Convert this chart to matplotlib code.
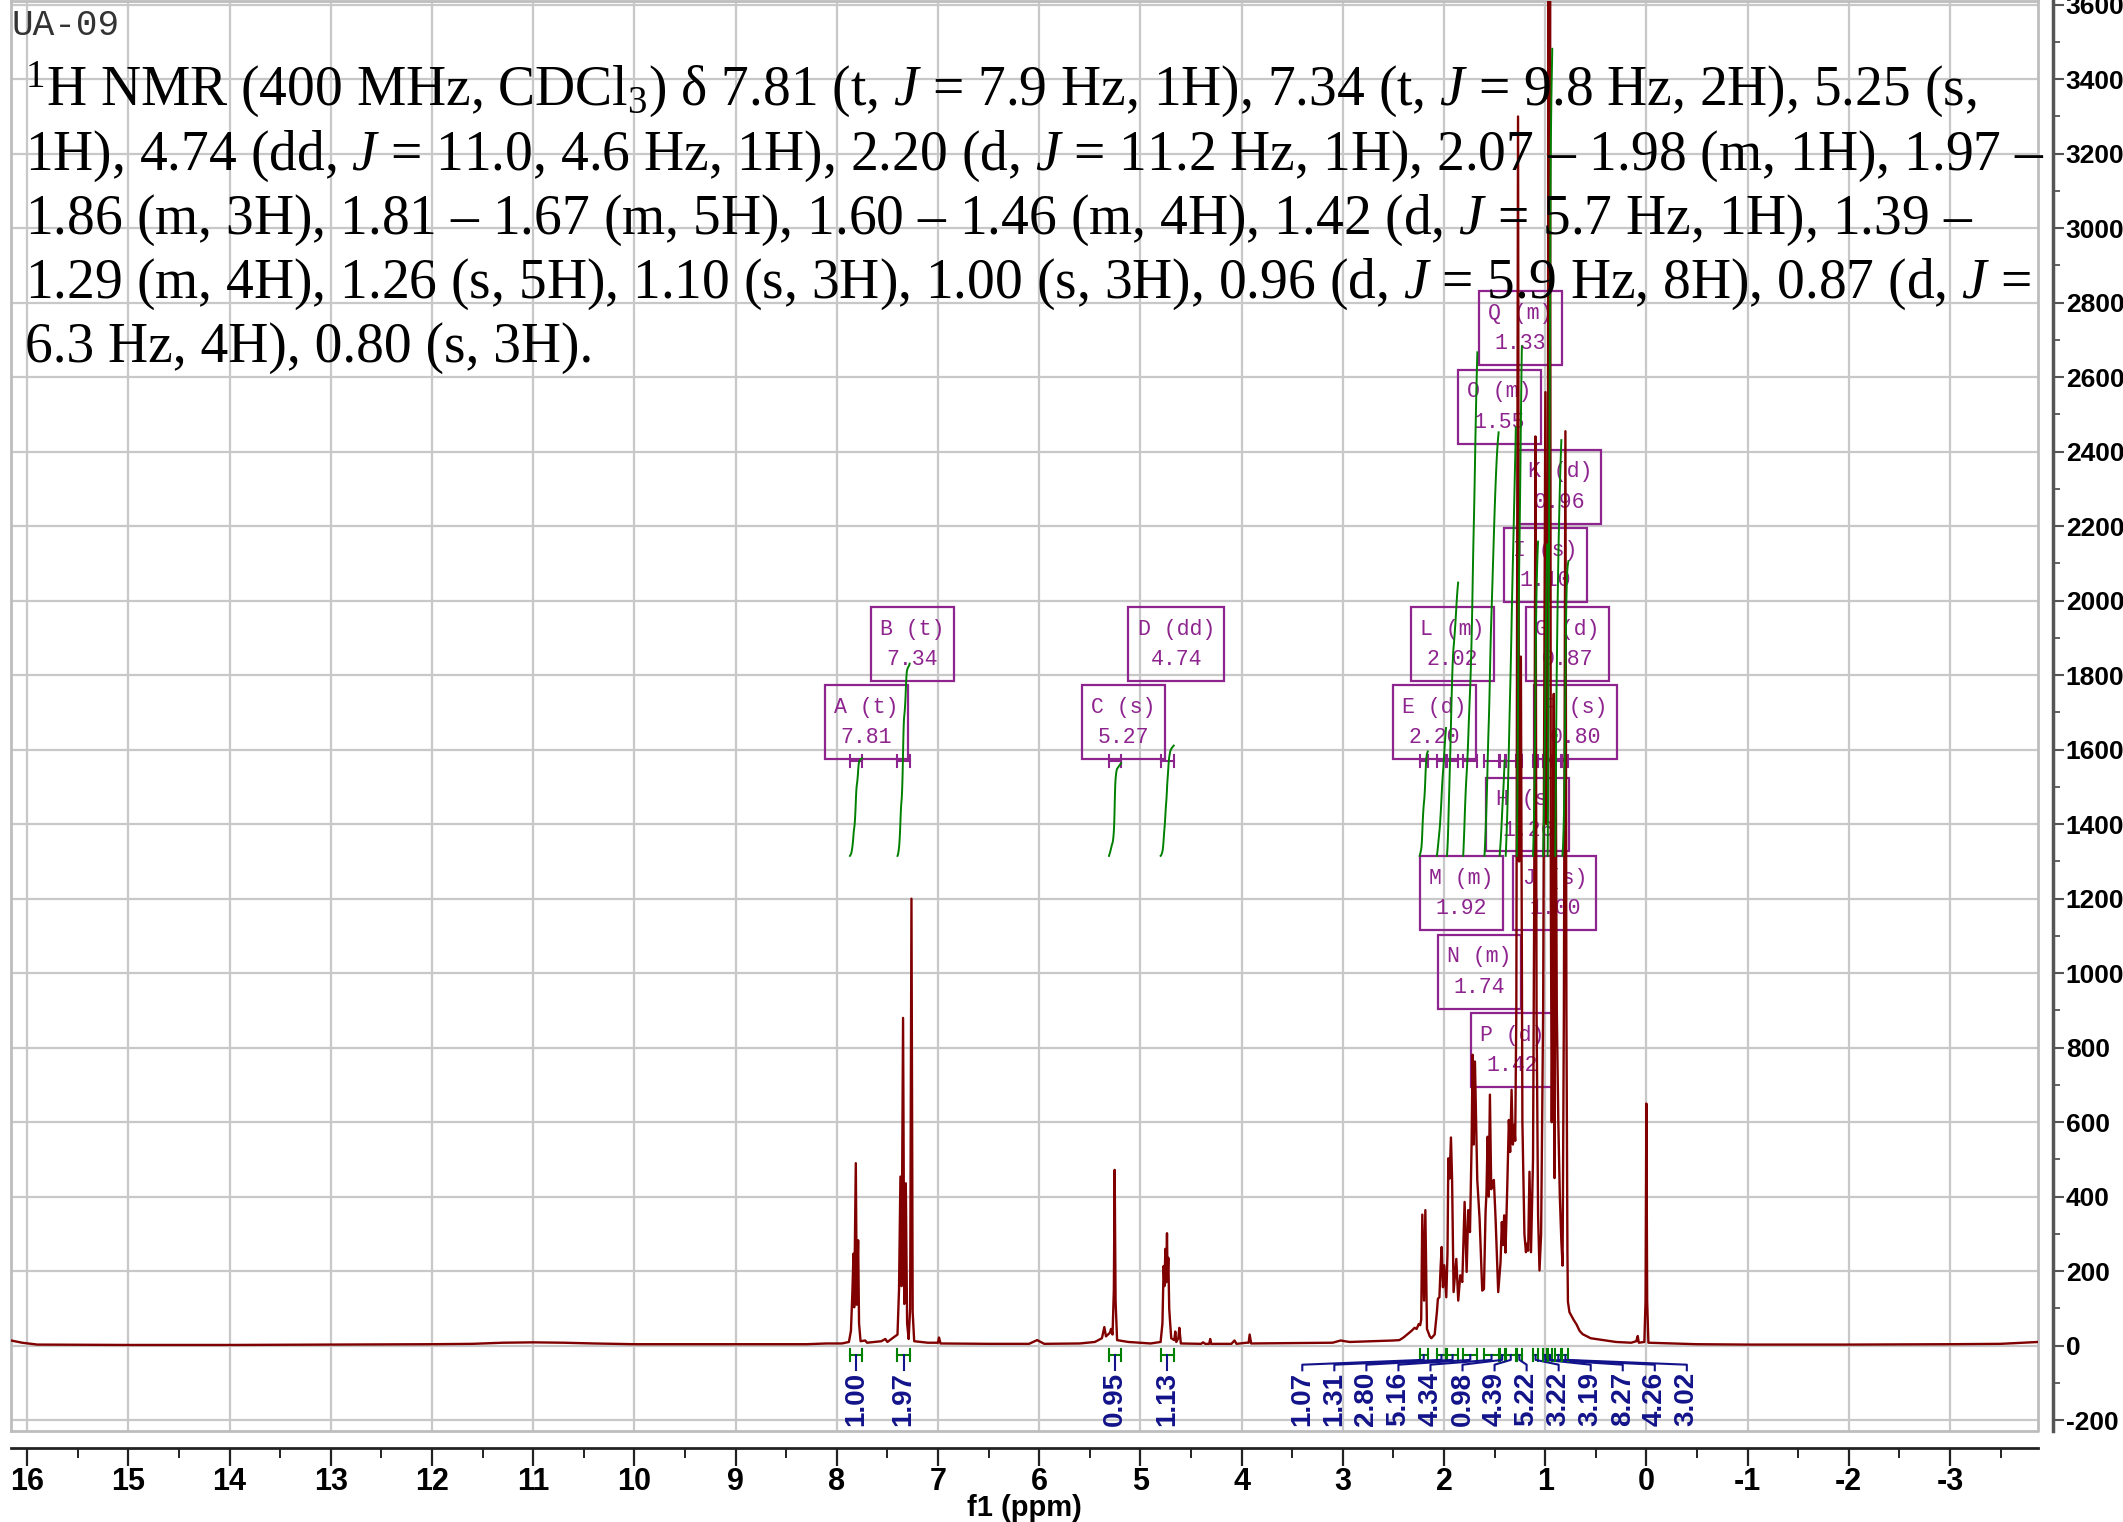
import numpy as np
import matplotlib
matplotlib.use("Agg")
import matplotlib.pyplot as plt
from matplotlib.patches import Rectangle
from matplotlib.ticker import MultipleLocator

plt.rcParams["mathtext.fontset"] = "custom"
plt.rcParams["mathtext.rm"] = "Liberation Serif"
plt.rcParams["mathtext.it"] = "Liberation Serif:italic"

# spectrum trace: shift (ppm) and intensity
spec_ppm = [16.16, 16.05, 15.9, 15.0, 14.0, 13.0, 12.0, 11.6, 11.3, 11.0, 10.7, 10.4, 10.0, 9.0,
            8.3, 8.1, 7.95, 7.88, 7.86, 7.845, 7.835, 7.828, 7.812, 7.802, 7.789, 7.78, 7.765,
            7.72, 7.70, 7.56, 7.52, 7.50, 7.40, 7.385, 7.371, 7.36, 7.345, 7.333, 7.318, 7.305,
            7.29, 7.275, 7.262, 7.25, 7.235, 7.10, 7.0, 6.99, 6.975, 6.5, 6.10, 6.02, 5.95, 5.6,
            5.45, 5.38, 5.356, 5.34, 5.30, 5.29, 5.275, 5.262, 5.254, 5.245, 5.23, 5.12, 5.06,
            4.90, 4.80, 4.782, 4.77, 4.762, 4.753, 4.745, 4.737, 4.731, 4.724, 4.715, 4.707,
            4.695, 4.665, 4.655, 4.645, 4.625, 4.615, 4.60, 4.40, 4.38, 4.36, 4.32, 4.31, 4.30,
            4.10, 4.07, 4.05, 3.95, 3.93, 3.92, 3.905, 3.5, 3.1, 3.02, 2.98, 2.93, 2.7, 2.5,
            2.44, 2.40, 2.32, 2.29, 2.27, 2.25, 2.235, 2.225, 2.214, 2.197, 2.184, 2.168, 2.14,
            2.125, 2.092, 2.07, 2.06, 2.045, 2.035, 2.023, 2.01, 1.997, 1.977, 1.965, 1.957,
            1.944, 1.931, 1.92, 1.905, 1.878, 1.859, 1.839, 1.819, 1.796, 1.776, 1.76, 1.743,
            1.727, 1.717, 1.706, 1.694, 1.671, 1.648, 1.622, 1.605, 1.589, 1.58, 1.569, 1.558,
            1.546, 1.533, 1.52, 1.507, 1.49, 1.464, 1.441, 1.428, 1.418, 1.405, 1.392, 1.375,
            1.359, 1.346, 1.332, 1.319, 1.306, 1.296, 1.285, 1.268, 1.258, 1.24, 1.225, 1.205,
            1.19, 1.178, 1.168, 1.155, 1.14, 1.12, 1.108, 1.096, 1.085, 1.07, 1.056, 1.04, 1.02,
            1.008, 0.998, 0.988, 0.975, 0.967, 0.96, 0.952, 0.944, 0.935, 0.925, 0.915, 0.907,
            0.897, 0.885, 0.87, 0.855, 0.84, 0.828, 0.815, 0.80, 0.79, 0.78, 0.775, 0.76, 0.72,
            0.69, 0.66, 0.63, 0.55, 0.45, 0.30, 0.15, 0.10, 0.085, 0.075, 0.02, 0.008, 0.0,
            -0.008, -0.02, -0.5, -1.0, -2.0, -3.0, -3.5, -3.87]
spec_int = [14, 8, 3, 2, 2, 3, 4, 5, 8, 9, 8, 6, 4, 4,
            4, 6, 6, 10, 40, 150, 247, 103, 490, 110, 283, 60, 12,
            14, 8, 12, 18, 10, 30, 150, 454, 160, 880, 112, 436, 60,
            18, 100, 1200, 90, 12, 8, 8, 22, 6, 5, 5, 15, 5, 6,
            10, 20, 50, 25, 35, 45, 30, 150, 472, 120, 15, 10, 9,
            6, 10, 60, 214, 160, 260, 170, 302, 180, 236, 100, 66,
            20, 15, 38, 10, 20, 48, 6, 5, 9, 5, 5, 18, 5,
            5, 14, 5, 8, 8, 30, 6, 7, 8, 14, 12, 10, 12, 14,
            15, 22, 40, 48, 45, 58, 55, 70, 352, 121, 364, 45, 25,
            20, 30, 90, 126, 130, 200, 265, 157, 216, 130, 250, 503,
            449, 559, 450, 144, 233, 121, 189, 171, 386, 198, 364, 305,
            539, 781, 540, 763, 445, 341, 148, 152, 359, 410, 561, 400,
            674, 420, 440, 445, 341, 144, 224, 332, 270, 350, 250, 422,
            606, 520, 687, 540, 593, 550, 900, 3300, 1300, 1850, 600, 300,
            251, 274, 255, 467, 251, 500, 1200, 2441, 900, 350, 202, 300, 900,
            1800, 2560, 1400, 1600, 3800, 2000, 3800, 1200, 600, 1000, 1750, 450,
            1650, 900, 600, 400, 280, 215, 900, 2455, 900, 250, 118, 90, 70,
            57, 40, 31, 20, 16, 10, 8, 12, 26, 8, 10, 120, 650,
            120, 8, 4, 3, 3, 4, 5, 10]

# integration ranges (ppm) and integral values
rng_start = [7.87, 7.40, 5.31, 4.80, 2.24, 2.07, 1.97, 1.81, 1.60, 1.45, 1.39, 1.28, 1.12, 1.02, 0.975, 0.90, 0.83]
rng_end = [7.75, 7.28, 5.19, 4.67, 2.16, 1.98, 1.86, 1.67, 1.46, 1.40, 1.29, 1.23, 1.07, 0.98, 0.93, 0.84, 0.77]
integrals = [1.00, 1.97, 0.95, 1.13, 1.07, 1.31, 2.80, 5.16, 4.34, 0.98, 4.39, 5.22, 3.22, 3.19, 8.27, 4.26, 3.02]

# multiplet labels
mult_letter = ["A", "B", "C", "D", "E", "L", "M", "N", "O", "P", "Q", "H", "I", "J", "K", "G", "F"]
mult_type = ["t", "t", "s", "dd", "d", "m", "m", "m", "m", "d", "m", "s", "s", "s", "d", "d", "s"]
mult_shift = ["7.81", "7.34", "5.27", "4.74", "2.20", "2.02", "1.92", "1.74", "1.55", "1.42",
              "1.33", "1.26", "1.10", "1.00", "0.96", "0.87", "0.80"]

# where the label boxes sit (centre ppm, bottom intensity)
box_x = [7.71, 7.255, 5.17, 4.645, 2.095, 1.92, 1.825, 1.65, 1.455, 1.325, 1.245, 1.17, 0.995, 0.905, 0.855, 0.78, 0.70]
box_y = [1575, 1785, 1575, 1785, 1575, 1785, 1116, 905, 2422, 695, 2633, 1327, 1996, 1116, 2207, 1785, 1575]

header = [
    r"$^{1}$H NMR (400 MHz, CDCl$_{3}$) δ 7.81 (t, $J$ = 7.9 Hz, 1H), 7.34 (t, $J$ = 9.8 Hz, 2H), 5.25 (s,",
    r"1H), 4.74 (dd, $J$ = 11.0, 4.6 Hz, 1H), 2.20 (d, $J$ = 11.2 Hz, 1H), 2.07 – 1.98 (m, 1H), 1.97 –",
    r"1.86 (m, 3H), 1.81 – 1.67 (m, 5H), 1.60 – 1.46 (m, 4H), 1.42 (d, $J$ = 5.7 Hz, 1H), 1.39 –",
    r"1.29 (m, 4H), 1.26 (s, 5H), 1.10 (s, 3H), 1.00 (s, 3H), 0.96 (d, $J$ = 5.9 Hz, 8H), 0.87 (d, $J$ =",
    r"6.3 Hz, 4H), 0.80 (s, 3H).",
]

red = "#800000"
purple = "#8E248E"
green = "#008000"
navy = "#12128A"
gridc = "#c8c8c8"
narrow = ["Liberation Sans Narrow", "Liberation Sans", "DejaVu Sans"]

W, H = 2123, 1522
fig = plt.figure(figsize=(W / 100, H / 100), dpi=100)
ax = fig.add_axes([11 / W, 91 / H, 2027 / W, 1430 / H])
ax.set_xlim(16.16, -3.87)
ax.set_ylim(-229, 3610)

# grid and frame
ax.set_axisbelow(True)
ax.grid(True, which="major", color=gridc, lw=1.6)
for s in ["left", "top"]:
    ax.spines[s].set_color("#bdbdbd")
    ax.spines[s].set_linewidth(2)
ax.plot([0, 1, 1], [0, 0, 1], transform=ax.transAxes, color="#bdbdbd", lw=2, clip_on=False)
ax.spines["bottom"].set_position(("outward", 12))
ax.spines["bottom"].set_color("#222222")
ax.spines["bottom"].set_linewidth(2)
ax.spines["right"].set_position(("outward", 11))
ax.spines["right"].set_color("#555555")
ax.spines["right"].set_linewidth(2.5)

xt = list(range(16, -4, -1))
ax.set_xticks(xt)
ax.set_xticklabels([str(v) for v in xt], fontfamily=narrow, fontweight="bold", fontsize=22)
ax.xaxis.set_minor_locator(MultipleLocator(0.5))
ax.tick_params(axis="x", which="major", direction="out", length=13, width=1.6, pad=1, color="#222222")
ax.tick_params(axis="x", which="minor", direction="out", length=7, width=1.4, color="#222222")

ax.yaxis.tick_right()
yt = list(range(-200, 3601, 200))
ax.set_yticks(yt)
ax.set_yticklabels([str(v) for v in yt], fontfamily="Liberation Sans", fontweight="bold", fontsize=19)
ax.yaxis.set_minor_locator(MultipleLocator(100))
ax.tick_params(axis="y", which="major", direction="out", length=8, width=1.5, pad=1, color="#555555")
ax.tick_params(axis="y", which="minor", direction="out", length=5, width=1.3, color="#555555")

fig.text(1024 / W, 1 - 1508 / H, "f1 (ppm)", ha="center", va="center",
         fontfamily=narrow, fontweight="bold", fontsize=21)

# spectrum
ax.plot(spec_ppm, spec_int, color=red, lw=1.7, zorder=5)

# multiplet boxes and range markers
for i in range(len(mult_letter)):
    bw = 0.69 + 0.13 * len(mult_type[i])
    bh = 198
    ax.add_patch(Rectangle((box_x[i] + bw / 2, box_y[i]), -bw, bh, fill=False,
                           ec=purple, lw=1.6, zorder=3))
    ax.text(box_x[i], box_y[i] + bh * 0.70, f"{mult_letter[i]} ({mult_type[i]})",
            ha="center", va="center", color=purple, fontsize=15.5, fontfamily="Liberation Mono", zorder=3)
    ax.text(box_x[i], box_y[i] + bh * 0.29, mult_shift[i],
            ha="center", va="center", color=purple, fontsize=15.5, fontfamily="Liberation Mono", zorder=3)

for i in range(len(rng_start)):
    a, b = rng_start[i], rng_end[i]
    ax.plot([a, b], [1570, 1570], color=purple, lw=1.5, zorder=3)
    ax.plot([a, a], [1553, 1587], color=purple, lw=1.5, zorder=3)
    ax.plot([b, b], [1553, 1587], color=purple, lw=1.5, zorder=3)

# integral curves (running integral of the trace over each range)
sp = np.array(spec_ppm)[::-1]
si = np.array(spec_int)[::-1]
for i in range(len(rng_start)):
    g = np.linspace(rng_start[i], rng_end[i], 80)
    y = np.interp(g, sp, si)
    c = np.concatenate([[0], np.cumsum((y[1:] + y[:-1]) / 2)])
    c = c / c[-1]
    ax.plot(g, 1315 + c * integrals[i] * 262, color=green, lw=1.4, zorder=6)

# integration markers and values below the baseline
lab_x = list(np.array(rng_start[:4]) / 2 + np.array(rng_end[:4]) / 2) + list(np.linspace(3.40, -0.40, 13))
for i in range(len(rng_start)):
    a, b = rng_start[i], rng_end[i]
    m = (a + b) / 2
    ax.plot([a, b], [-25, -25], color=green, lw=1.5, zorder=4)
    ax.plot([a, a], [-10, -40], color=green, lw=1.5, zorder=4)
    ax.plot([b, b], [-10, -40], color=green, lw=1.5, zorder=4)
    ax.plot([m, m, lab_x[i], lab_x[i]], [-25, -38, -51, -66], color=navy, lw=1.5, zorder=4)
    ax.text(lab_x[i], -70, f"{integrals[i]:.2f}", rotation=90, ha="center", va="top",
            color=navy, fontsize=20, fontweight="bold", fontfamily="Liberation Sans", zorder=4)

# header text
fig.text(11 / W, 1 - 8 / H, "UA-09", ha="left", va="top", fontsize=26,
         fontfamily="Liberation Mono", color="#333333")
for k, line in enumerate(header):
    fig.text(25 / W, 1 - (106 + 64 * k) / H, line, ha="left", va="baseline",
             fontsize=40, fontfamily="Liberation Serif", color="black")

fig.savefig("out.png", dpi=100)
